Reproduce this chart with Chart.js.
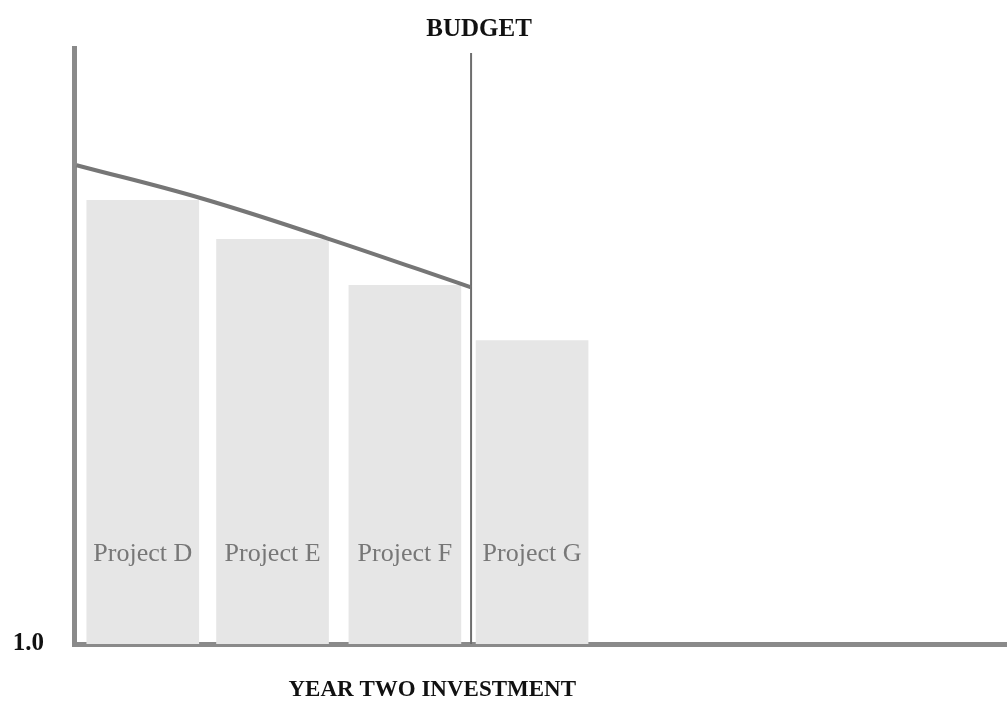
<!DOCTYPE html>
<html>
<head>
<meta charset="utf-8">
<script src="https://cdn.jsdelivr.net/npm/chart.js@4"></script>
<style>
  html, body { margin: 0; padding: 0; background: #fff; }
  #wrap { width: 1007px; height: 706px; }
</style>
</head>
<body>
<div id="wrap"><canvas id="budget"></canvas></div>
<script>
// data (y in arbitrary units, axis starts at 1.0)
var projects = ["Project D", "Project E", "Project F", "Project G"];
var projectX = [0.53, 1.53, 2.55, 3.53];
var projectValues = [1.886, 1.808, 1.716, 1.606];
var curveX = [0.02, 0.98, 1.95, 3.06];
var curveY = [1.956, 1.89, 1.81, 1.712];
var budgetX = 3.06;
var budgetTop = 2.18;
var yTicks = [1.0];

var serif = "'Liberation Serif', 'Times New Roman', serif";

var labelsPlugin = {
  id: "labels",
  afterDraw: function (chart) {
    var c = chart.ctx, area = chart.chartArea;
    var xs = chart.scales.x;
    c.save();
    c.fillStyle = "#111";
    c.textAlign = "center";
    c.textBaseline = "middle";
    c.font = "bold 25px " + serif;
    c.fillText("BUDGET", xs.getPixelForValue(budgetX) + 8, 30);
    c.font = "bold 23px " + serif;
    c.fillText("YEAR TWO INVESTMENT", area.left + area.width * 0.384, 690);
    // project names inside the bars
    var meta = chart.getDatasetMeta(2);
    c.fillStyle = "#777";
    c.font = "26px " + serif;
    meta.data.forEach(function (bar, i) {
      c.fillText(projects[i], bar.x, area.bottom - 90);
    });
    c.restore();
  }
};

var ctx = document.getElementById("budget").getContext("2d");
var chart = new Chart(ctx, {
  type: "bar",
  data: {
    datasets: [
      {
        type: "line",
        label: "budget curve",
        data: curveX.map(function (x, i) { return { x: x, y: curveY[i] }; }),
        borderColor: "#767676",
        borderWidth: 4,
        pointRadius: 0,
        tension: 0.4,
        order: 0,
      },
      {
        type: "line",
        label: "budget limit",
        data: [{ x: budgetX, y: 1.0 }, { x: budgetX, y: budgetTop }],
        borderColor: "#6e6e6e",
        borderWidth: 2,
        pointRadius: 0,
        order: 0,
      },
      {
        label: "projects",
        data: projectX.map(function (x, i) { return { x: x, y: projectValues[i] }; }),
        backgroundColor: "#e6e6e6",
        borderWidth: 0,
        barThickness: 112,
        order: 2,
      },
    ],
  },
  options: {
    responsive: true,
    maintainAspectRatio: false,
    animation: false,
    layout: { padding: { top: 48, right: 0, left: 0, bottom: 0 } },
    plugins: {
      legend: { display: false },
      tooltip: { enabled: false },
      title: { display: false },
    },
    scales: {
      x: {
        type: "linear",
        offset: false,
        min: 0,
        max: 7.19,
        grid: { display: false, drawTicks: false },
        border: { display: true, color: "#8a8a8a", width: 5 },
        ticks: { display: false },
        afterFit: function (s) { s.height = 62; },
      },
      y: {
        min: 1.0,
        max: 2.19,
        grid: { display: false, drawTicks: false },
        border: { display: true, color: "#8a8a8a", width: 5 },
        afterBuildTicks: function (s) {
          s.ticks = yTicks.map(function (v) { return { value: v }; });
        },
        ticks: {
          padding: 30,
          color: "#111",
          font: { family: serif, size: 25, weight: "bold" },
          callback: function (v) { return v.toFixed(1); },
        },
        afterFit: function (s) { s.width = 74; },
      },
    },
  },
  plugins: [labelsPlugin],
});
</script>
</body>
</html>
